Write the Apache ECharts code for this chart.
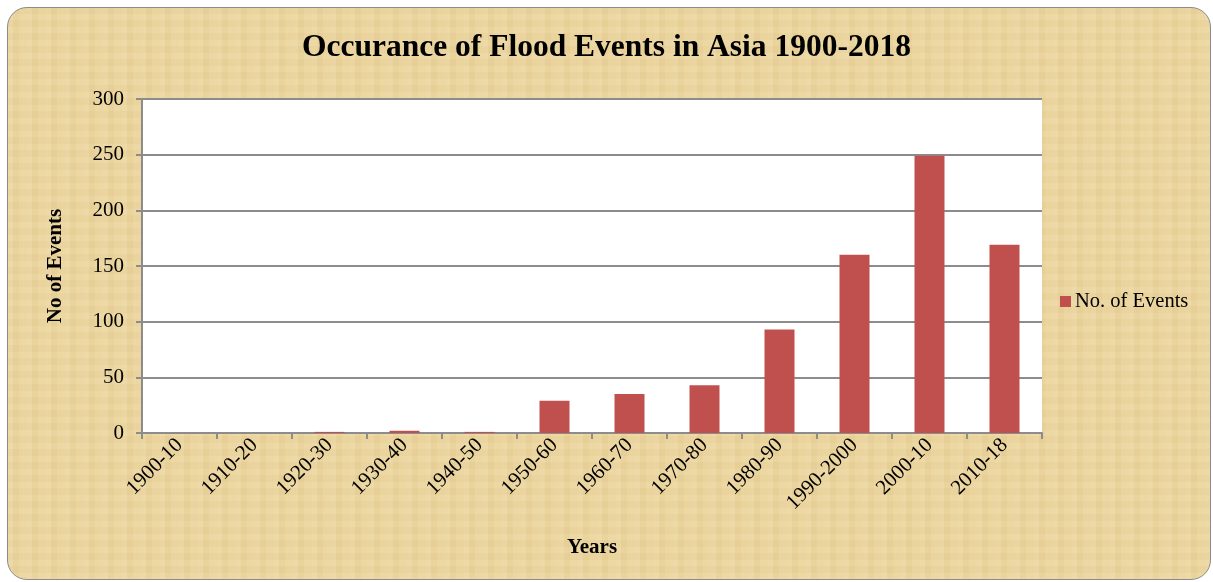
<!DOCTYPE html>
<html>
<head>
<meta charset="utf-8">
<script src="https://cdn.jsdelivr.net/npm/echarts@6/dist/echarts.min.js"></script>
<style>
  html, body { margin: 0; padding: 0; background: #fff; }
  .frame {
    position: absolute; left: 7px; top: 7px; width: 1202px; height: 571px;
    border: 1px solid #8c8c8c; border-radius: 20px; overflow: hidden;
    background-color: #ead39c;
    background-image:
      repeating-linear-gradient(90deg, rgba(255,248,220,0.1) 0 5px, rgba(200,170,100,0.05) 5px 11px, rgba(255,240,200,0.08) 11px 19px),
      repeating-linear-gradient(0deg, rgba(255,248,220,0.08) 0 6px, rgba(190,160,90,0.04) 6px 13px);
  }
  #chart { position: absolute; left: 0; top: 0; width: 1213px; height: 582px; }
</style>
</head>
<body>
<div class="frame"></div>
<div id="chart"></div>
<script>
var categories = ["1900-10", "1910-20", "1920-30", "1930-40", "1940-50", "1950-60",
  "1960-70", "1970-80", "1980-90", "1990-2000", "2000-10", "2010-18"];
var events = [0, 0, 1, 2, 1, 29, 35, 43, 93, 160, 249, 169];
var yTicks = [0, 50, 100, 150, 200, 250, 300];

var font = "Liberation Serif, Times New Roman, serif";
var chart = echarts.init(document.getElementById("chart"));
var option = {
  backgroundColor: "transparent",
  textStyle: { fontFamily: font },
  title: {
    text: "Occurance of Flood Events in Asia 1900-2018",
    left: "center",
    top: 27,
    textStyle: { fontFamily: font, fontSize: 31.5, fontWeight: "bold", color: "#000" }
  },
  legend: {
    data: ["No. of Events"],
    left: 1055,
    top: 286,
    itemWidth: 11,
    itemHeight: 11,
    icon: "rect",
    itemGap: 4,
    textStyle: { fontFamily: font, fontSize: 20.5, color: "#000", padding: [0, 0, 0, -1] }
  },
  grid: {
    left: 142, right: 171, top: 99, bottom: 149,
    show: true, backgroundColor: "#fff", borderWidth: 0
  },
  xAxis: {
    type: "category",
    data: categories,
    name: "Years",
    nameLocation: "middle",
    nameGap: 104,
    nameTextStyle: { fontFamily: font, fontSize: 21, fontWeight: "bold", color: "#000" },
    axisLine: { lineStyle: { color: "#8c8c8c", width: 2 } },
    axisTick: { show: true, length: 6, lineStyle: { color: "#8c8c8c", width: 2 } },
    axisLabel: { rotate: 45, margin: 9, fontFamily: font, fontSize: 21, color: "#000", interval: 0 }
  },
  yAxis: {
    type: "value",
    min: yTicks[0],
    max: yTicks[yTicks.length - 1],
    interval: 50,
    name: "No of Events",
    nameLocation: "middle",
    nameGap: 76,
    nameTextStyle: { fontFamily: font, fontSize: 21, fontWeight: "bold", color: "#000" },
    axisLine: { show: true, lineStyle: { color: "#8c8c8c", width: 2 } },
    axisTick: { show: true, length: 6, lineStyle: { color: "#8c8c8c", width: 2 } },
    axisLabel: { margin: 18, fontFamily: font, fontSize: 21, color: "#000" },
    splitLine: { lineStyle: { color: "#8c8c8c", width: 2 } }
  },
  series: [{
    name: "No. of Events",
    type: "bar",
    data: events,
    barWidth: "40%",
    itemStyle: { color: "#c0504d" }
  }]
};
chart.setOption(option);
</script>
</body>
</html>
